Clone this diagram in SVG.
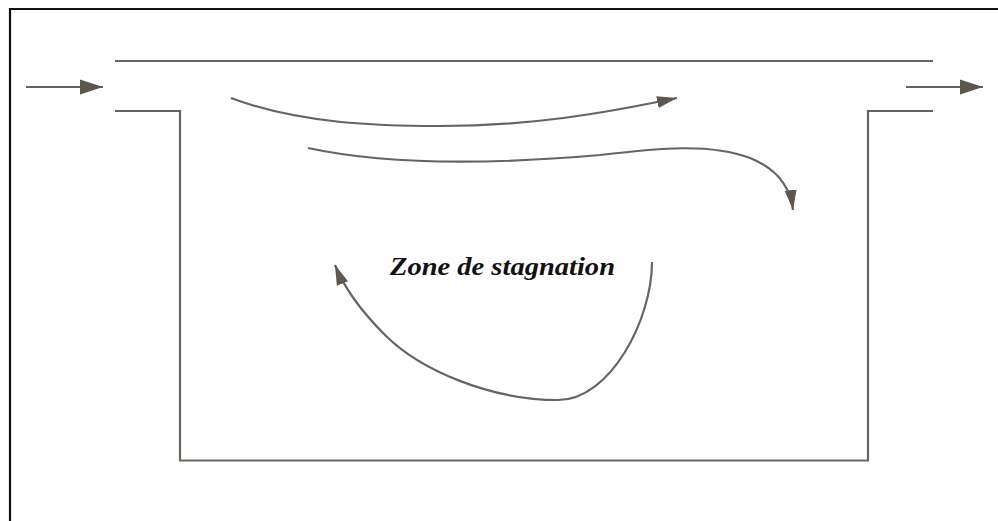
<svg xmlns="http://www.w3.org/2000/svg" width="998" height="521" viewBox="0 0 998 521">
<style>
.ln{fill:none;stroke:#6b645d;stroke-width:2.2}
.fr{fill:none;stroke:#111;stroke-width:2.2}
.lbl{font-family:"Liberation Serif","Times New Roman",serif;font-style:italic;font-weight:bold;font-size:26px;fill:#111}
</style>
<defs>
<marker id="big" markerUnits="userSpaceOnUse" markerWidth="24" markerHeight="16" refX="23" refY="8" orient="auto"><path d="M0,0.5 L23,8 L0,15.5 z" fill="#5e5750"/></marker>
<marker id="sm" markerUnits="userSpaceOnUse" markerWidth="21" markerHeight="14" refX="20" refY="7" orient="auto"><path d="M0,1 L20,7 L0,13 z" fill="#5e5750"/></marker>
</defs>
<rect width="998" height="521" fill="#fff"/>
<path class="fr" d="M10,521 V9 H998"/>
<g id="tank">
<path class="ln" d="M115,61 H933"/>
<path class="ln" d="M115,111 H180 V460.5 H868 V111 H933"/>
</g>
<g id="connectors">
<path class="ln" d="M26,87 H103" marker-end="url(#big)"/>
<path class="ln" d="M906,87 H983" marker-end="url(#big)"/>
<path class="ln" d="M231,98 C300,124 380,126 440,126 C530,126 600,114 677,98" marker-end="url(#sm)"/>
<path class="ln" d="M308,148 C400,168 520,162 600,155 C660,148 710,143 750,158 C775,168 790,185 793,210" marker-end="url(#sm)"/>
<path class="ln" d="M652,262 C652,320 610,400 558,400 C490,400 420,370 385,335 C365,315 345,290 335,265" marker-end="url(#sm)"/>
</g>
<g id="label">
<text class="lbl" x="390" y="275" textLength="225" lengthAdjust="spacingAndGlyphs">Zone de stagnation</text>
</g>
</svg>
